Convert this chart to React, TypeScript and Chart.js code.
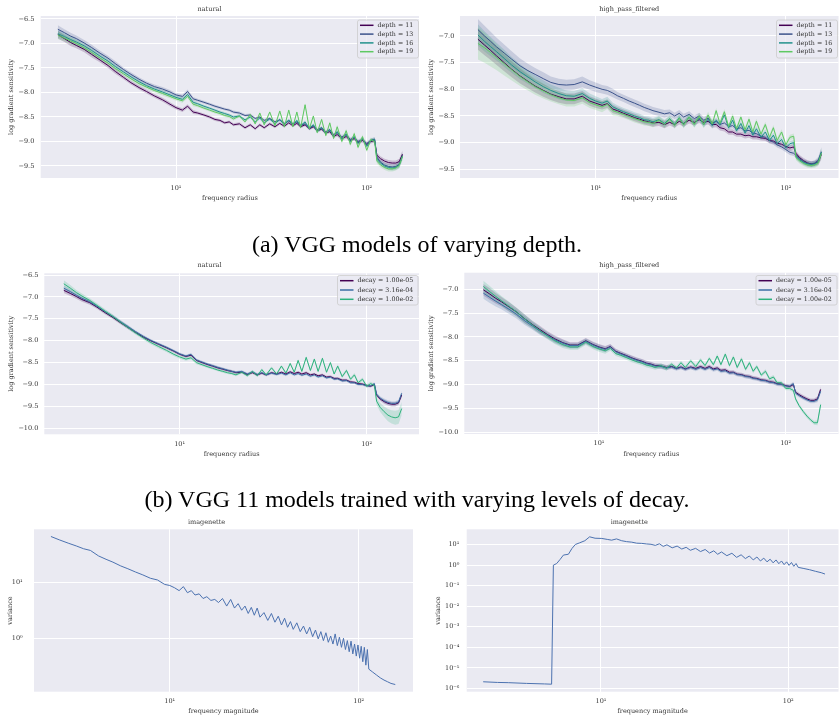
import React, { useEffect, useRef } from "react";
import { Chart, registerables } from "chart.js";

Chart.register(...registerables);

const FONT = "'DejaVu Serif', serif";
const TEXT = "#333333";
const BG = "#eaeaf2";

// ---------- shared frequency radii (panels a, b) ----------
const RADIUS = [2.4, 2.6, 2.8, 3.0, 3.3, 3.6, 4.0, 4.4, 4.8, 5.3, 5.8, 6.4, 7.0, 7.7, 8.5, 9.3, 10, 10.8, 11.5, 12.3,
  13, 14, 15, 16, 17, 18, 19, 20, 21.5, 23, 24.5, 26, 27.5, 29, 31, 33, 35, 37, 39, 41,
  43, 45, 47.5, 50, 52.5, 55, 58, 61, 64, 67, 70, 74, 78, 82, 86, 90, 95, 100, 105, 110,
  113, 118, 124, 130, 136, 142, 148, 154];

// ---------- (a) natural, depth ----------
const NAT_D11 = [-6.82, -6.90, -6.98, -7.04, -7.12, -7.22, -7.34, -7.45, -7.57, -7.69, -7.80, -7.90, -7.98, -8.07, -8.15, -8.24, -8.31, -8.36, -8.28, -8.40,
  -8.42, -8.46, -8.50, -8.55, -8.57, -8.62, -8.60, -8.66, -8.64, -8.72, -8.66, -8.74, -8.66, -8.72, -8.64, -8.70, -8.63, -8.69, -8.62, -8.68,
  -8.63, -8.70, -8.66, -8.74, -8.70, -8.78, -8.75, -8.83, -8.80, -8.90, -8.86, -8.94, -8.90, -8.98, -8.94, -9.02, -8.98, -9.06, -9.00, -8.98,
  -9.28, -9.35, -9.40, -9.43, -9.44, -9.44, -9.41, -9.26];
const NAT_D13 = [-6.71, -6.78, -6.85, -6.90, -6.99, -7.08, -7.20, -7.30, -7.41, -7.53, -7.63, -7.73, -7.81, -7.88, -7.93, -7.99, -8.05, -8.08, -7.98, -8.13,
  -8.16, -8.20, -8.24, -8.28, -8.31, -8.34, -8.36, -8.40, -8.42, -8.47, -8.46, -8.53, -8.50, -8.57, -8.53, -8.60, -8.56, -8.63, -8.58, -8.64,
  -8.60, -8.67, -8.64, -8.72, -8.68, -8.76, -8.72, -8.80, -8.76, -8.86, -8.82, -8.91, -8.86, -8.96, -8.92, -9.00, -8.96, -9.04, -8.98, -8.95,
  -9.32, -9.42, -9.48, -9.51, -9.52, -9.51, -9.47, -9.28];
const NAT_D16 = [-6.80, -6.86, -6.92, -6.97, -7.05, -7.14, -7.26, -7.36, -7.47, -7.58, -7.68, -7.78, -7.86, -7.93, -7.99, -8.05, -8.10, -8.14, -8.04, -8.20,
  -8.23, -8.28, -8.32, -8.36, -8.40, -8.43, -8.46, -8.50, -8.48, -8.56, -8.50, -8.60, -8.52, -8.62, -8.54, -8.64, -8.55, -8.66, -8.56, -8.66,
  -8.57, -8.68, -8.60, -8.74, -8.66, -8.80, -8.72, -8.84, -8.76, -8.90, -8.80, -8.95, -8.85, -9.00, -8.90, -9.04, -8.94, -9.10, -8.98, -8.96,
  -9.36, -9.44, -9.50, -9.53, -9.54, -9.53, -9.48, -9.30];
const NAT_D19 = [-6.83, -6.89, -6.95, -7.00, -7.09, -7.18, -7.30, -7.40, -7.51, -7.62, -7.72, -7.82, -7.89, -7.96, -8.02, -8.08, -8.13, -8.17, -8.08, -8.24,
  -8.27, -8.32, -8.36, -8.40, -8.43, -8.47, -8.49, -8.54, -8.48, -8.60, -8.45, -8.64, -8.42, -8.66, -8.40, -8.68, -8.38, -8.70, -8.36, -8.70,
  -8.40, -8.72, -8.25, -8.74, -8.48, -8.82, -8.55, -8.88, -8.62, -8.94, -8.70, -9.00, -8.78, -9.06, -8.84, -9.12, -8.90, -9.18, -8.96, -9.00,
  -9.40, -9.48, -9.53, -9.56, -9.56, -9.54, -9.49, -9.30];
const NAT_D_BAND = [0.08, 0.07, 0.07, 0.06, 0.06, 0.06, 0.05, 0.05, 0.05, 0.04, 0.04, 0.04, 0.04, 0.04, 0.04, 0.04, 0.04, 0.04, 0.04, 0.04,
  0.03, 0.03, 0.03, 0.03, 0.03, 0.03, 0.03, 0.03, 0.03, 0.03, 0.03, 0.03, 0.03, 0.03, 0.03, 0.03, 0.03, 0.03, 0.03, 0.03,
  0.03, 0.03, 0.03, 0.03, 0.03, 0.03, 0.03, 0.03, 0.03, 0.03, 0.04, 0.04, 0.04, 0.04, 0.04, 0.04, 0.04, 0.04, 0.04, 0.04,
  0.05, 0.05, 0.05, 0.05, 0.05, 0.05, 0.06, 0.08];

// ---------- (a) high_pass_filtered, depth ----------
const HP_D11 = [-7.06, -7.17, -7.27, -7.37, -7.50, -7.62, -7.75, -7.85, -7.94, -8.02, -8.09, -8.14, -8.18, -8.18, -8.13, -8.22, -8.26, -8.30, -8.27, -8.37,
  -8.40, -8.45, -8.49, -8.53, -8.56, -8.59, -8.61, -8.63, -8.62, -8.66, -8.62, -8.66, -8.60, -8.64, -8.58, -8.62, -8.57, -8.62, -8.60, -8.66,
  -8.66, -8.72, -8.74, -8.80, -8.80, -8.84, -8.84, -8.87, -8.86, -8.89, -8.89, -8.91, -8.92, -8.96, -8.97, -9.01, -9.03, -9.07, -9.10, -9.08,
  -9.20, -9.28, -9.34, -9.38, -9.40, -9.39, -9.36, -9.22];
const HP_D13 = [-6.88, -7.00, -7.10, -7.20, -7.32, -7.43, -7.56, -7.65, -7.72, -7.80, -7.87, -7.91, -7.92, -7.91, -7.86, -7.92, -7.96, -8.00, -8.02, -8.07,
  -8.12, -8.17, -8.22, -8.26, -8.30, -8.34, -8.37, -8.40, -8.43, -8.46, -8.44, -8.50, -8.45, -8.52, -8.47, -8.55, -8.50, -8.58, -8.54, -8.63,
  -8.60, -8.66, -8.63, -8.70, -8.68, -8.74, -8.72, -8.78, -8.77, -8.82, -8.83, -8.88, -8.90, -8.96, -8.99, -9.04, -9.08, -9.13, -9.18, -9.20,
  -9.24, -9.30, -9.36, -9.39, -9.40, -9.38, -9.33, -9.17];
const HP_D16 = [-6.98, -7.10, -7.20, -7.29, -7.42, -7.54, -7.67, -7.77, -7.86, -7.95, -8.02, -8.08, -8.12, -8.13, -8.08, -8.17, -8.22, -8.26, -8.22, -8.33,
  -8.37, -8.42, -8.46, -8.50, -8.53, -8.57, -8.58, -8.61, -8.57, -8.64, -8.55, -8.66, -8.53, -8.66, -8.52, -8.65, -8.54, -8.66, -8.56, -8.68,
  -8.58, -8.66, -8.48, -8.72, -8.58, -8.78, -8.64, -8.82, -8.68, -8.86, -8.74, -8.90, -8.80, -8.96, -8.86, -9.02, -8.94, -9.10, -9.02, -9.00,
  -9.26, -9.32, -9.37, -9.40, -9.41, -9.40, -9.36, -9.18];
const HP_D19 = [-7.14, -7.22, -7.31, -7.40, -7.52, -7.63, -7.76, -7.86, -7.95, -8.03, -8.10, -8.16, -8.20, -8.21, -8.16, -8.25, -8.29, -8.33, -8.28, -8.40,
  -8.43, -8.47, -8.51, -8.55, -8.58, -8.61, -8.62, -8.64, -8.58, -8.66, -8.56, -8.68, -8.54, -8.67, -8.52, -8.66, -8.50, -8.66, -8.48, -8.65,
  -8.40, -8.64, -8.42, -8.70, -8.50, -8.74, -8.52, -8.76, -8.56, -8.80, -8.60, -8.84, -8.66, -8.90, -8.72, -8.96, -8.80, -9.04, -8.90, -8.88,
  -9.28, -9.34, -9.39, -9.42, -9.43, -9.42, -9.38, -9.20];
const HP_D_BAND = [0.20, 0.19, 0.18, 0.17, 0.16, 0.15, 0.14, 0.13, 0.12, 0.12, 0.11, 0.11, 0.10, 0.10, 0.10, 0.09, 0.09, 0.08, 0.08, 0.08,
  0.07, 0.07, 0.07, 0.07, 0.07, 0.07, 0.07, 0.07, 0.07, 0.07, 0.06, 0.06, 0.06, 0.06, 0.06, 0.06, 0.06, 0.06, 0.06, 0.06,
  0.05, 0.05, 0.05, 0.05, 0.05, 0.05, 0.05, 0.05, 0.05, 0.05, 0.05, 0.05, 0.05, 0.05, 0.05, 0.05, 0.05, 0.05, 0.05, 0.05,
  0.05, 0.05, 0.05, 0.05, 0.05, 0.05, 0.06, 0.09];
const HP_D19_BAND = [0.30, 0.28, 0.26, 0.24, 0.22, 0.20, 0.18, 0.16, 0.15, 0.14, 0.13, 0.12, 0.12, 0.11, 0.11, 0.10, 0.10, 0.10, 0.09, 0.09,
  0.07, 0.07, 0.07, 0.07, 0.07, 0.07, 0.07, 0.07, 0.07, 0.07, 0.06, 0.06, 0.06, 0.06, 0.06, 0.06, 0.06, 0.06, 0.06, 0.06,
  0.05, 0.05, 0.05, 0.05, 0.05, 0.05, 0.05, 0.05, 0.05, 0.05, 0.05, 0.05, 0.05, 0.05, 0.05, 0.05, 0.05, 0.05, 0.05, 0.05,
  0.05, 0.05, 0.05, 0.05, 0.05, 0.05, 0.06, 0.09];

// ---------- (b) natural, decay ----------
const NAT_W5 = [-6.85, -6.92, -6.99, -7.06, -7.13, -7.23, -7.36, -7.47, -7.58, -7.70, -7.81, -7.92, -8.00, -8.08, -8.16, -8.24, -8.31, -8.36, -8.33, -8.45,
  -8.49, -8.54, -8.58, -8.62, -8.65, -8.68, -8.70, -8.73, -8.72, -8.77, -8.73, -8.78, -8.74, -8.78, -8.73, -8.76, -8.72, -8.76, -8.71, -8.75,
  -8.72, -8.76, -8.73, -8.78, -8.76, -8.80, -8.78, -8.83, -8.82, -8.86, -8.86, -8.90, -8.90, -8.94, -8.95, -8.98, -8.99, -9.02, -9.04, -9.00,
  -9.24, -9.33, -9.39, -9.43, -9.45, -9.45, -9.42, -9.24];
const NAT_W4 = [-6.80, -6.88, -6.96, -7.03, -7.11, -7.21, -7.34, -7.45, -7.56, -7.68, -7.79, -7.90, -7.99, -8.07, -8.15, -8.23, -8.30, -8.35, -8.31, -8.44,
  -8.48, -8.53, -8.57, -8.61, -8.64, -8.67, -8.70, -8.72, -8.70, -8.76, -8.71, -8.77, -8.73, -8.78, -8.74, -8.77, -8.74, -8.78, -8.73, -8.78,
  -8.75, -8.79, -8.76, -8.81, -8.78, -8.83, -8.80, -8.85, -8.83, -8.88, -8.87, -8.92, -8.91, -8.96, -8.96, -9.00, -9.00, -9.03, -9.03, -8.98,
  -9.22, -9.31, -9.37, -9.41, -9.43, -9.43, -9.40, -9.20];
const NAT_W2 = [-6.70, -6.80, -6.90, -6.98, -7.08, -7.19, -7.33, -7.45, -7.57, -7.70, -7.82, -7.94, -8.04, -8.13, -8.22, -8.31, -8.37, -8.42, -8.39, -8.50,
  -8.54, -8.59, -8.63, -8.67, -8.70, -8.73, -8.75, -8.78, -8.72, -8.80, -8.70, -8.80, -8.66, -8.78, -8.62, -8.76, -8.58, -8.74, -8.52, -8.72,
  -8.45, -8.70, -8.38, -8.68, -8.42, -8.70, -8.40, -8.72, -8.50, -8.76, -8.58, -8.82, -8.68, -8.88, -8.78, -8.96, -8.88, -9.04, -8.98, -9.02,
  -9.38, -9.52, -9.62, -9.70, -9.74, -9.76, -9.74, -9.55];
const NAT_W_BAND = [0.06, 0.06, 0.05, 0.05, 0.05, 0.04, 0.04, 0.04, 0.04, 0.04, 0.03, 0.03, 0.03, 0.03, 0.03, 0.03, 0.03, 0.03, 0.03, 0.03,
  0.03, 0.03, 0.03, 0.03, 0.03, 0.03, 0.03, 0.03, 0.03, 0.03, 0.03, 0.03, 0.03, 0.03, 0.03, 0.03, 0.03, 0.03, 0.03, 0.03,
  0.03, 0.03, 0.03, 0.03, 0.03, 0.03, 0.03, 0.03, 0.03, 0.03, 0.03, 0.03, 0.03, 0.03, 0.03, 0.03, 0.03, 0.03, 0.03, 0.03,
  0.04, 0.04, 0.05, 0.05, 0.05, 0.05, 0.05, 0.06];
const NAT_W2_BAND = [0.08, 0.07, 0.06, 0.06, 0.05, 0.05, 0.05, 0.04, 0.04, 0.04, 0.04, 0.04, 0.04, 0.04, 0.04, 0.04, 0.04, 0.04, 0.04, 0.04,
  0.03, 0.03, 0.03, 0.03, 0.03, 0.03, 0.03, 0.03, 0.03, 0.03, 0.03, 0.03, 0.03, 0.03, 0.03, 0.03, 0.03, 0.03, 0.03, 0.03,
  0.03, 0.03, 0.03, 0.03, 0.03, 0.03, 0.03, 0.03, 0.03, 0.03, 0.04, 0.04, 0.04, 0.04, 0.04, 0.04, 0.04, 0.04, 0.04, 0.04,
  0.08, 0.10, 0.12, 0.14, 0.15, 0.16, 0.16, 0.15];

// ---------- (b) high_pass_filtered, decay ----------
const HP_W5 = [-7.01, -7.10, -7.19, -7.26, -7.37, -7.47, -7.62, -7.74, -7.84, -7.95, -8.04, -8.12, -8.17, -8.17, -8.08, -8.16, -8.21, -8.25, -8.20, -8.30,
  -8.34, -8.39, -8.44, -8.48, -8.51, -8.55, -8.57, -8.60, -8.61, -8.64, -8.62, -8.66, -8.63, -8.67, -8.63, -8.66, -8.62, -8.66, -8.62, -8.67,
  -8.65, -8.70, -8.69, -8.74, -8.74, -8.78, -8.79, -8.82, -8.83, -8.86, -8.87, -8.90, -8.91, -8.94, -8.95, -8.98, -8.99, -9.02, -9.04, -9.00,
  -9.16, -9.21, -9.26, -9.30, -9.33, -9.33, -9.30, -9.10];
const HP_W4 = [-7.08, -7.17, -7.25, -7.32, -7.42, -7.52, -7.66, -7.77, -7.87, -7.97, -8.06, -8.13, -8.18, -8.18, -8.09, -8.17, -8.22, -8.26, -8.21, -8.31,
  -8.35, -8.40, -8.45, -8.49, -8.52, -8.56, -8.58, -8.61, -8.62, -8.65, -8.63, -8.67, -8.64, -8.68, -8.64, -8.68, -8.64, -8.68, -8.64, -8.69,
  -8.67, -8.72, -8.71, -8.76, -8.75, -8.79, -8.80, -8.83, -8.84, -8.87, -8.88, -8.91, -8.92, -8.95, -8.96, -8.99, -9.00, -9.03, -9.03, -8.98,
  -9.18, -9.23, -9.28, -9.32, -9.35, -9.35, -9.32, -9.14];
const HP_W2 = [-6.94, -7.05, -7.15, -7.24, -7.36, -7.47, -7.62, -7.75, -7.86, -7.98, -8.08, -8.16, -8.21, -8.21, -8.11, -8.20, -8.25, -8.29, -8.24, -8.35,
  -8.38, -8.43, -8.48, -8.52, -8.55, -8.59, -8.61, -8.64, -8.60, -8.66, -8.57, -8.65, -8.54, -8.64, -8.50, -8.62, -8.48, -8.60, -8.45, -8.58,
  -8.40, -8.58, -8.36, -8.60, -8.42, -8.64, -8.46, -8.68, -8.54, -8.72, -8.62, -8.80, -8.72, -8.88, -8.84, -8.96, -8.96, -9.08, -9.08, -9.12,
  -9.30, -9.44, -9.56, -9.66, -9.74, -9.80, -9.80, -9.42];
const HP_W_BAND = [0.12, 0.12, 0.11, 0.10, 0.10, 0.09, 0.09, 0.08, 0.08, 0.07, 0.07, 0.07, 0.06, 0.06, 0.06, 0.06, 0.06, 0.06, 0.05, 0.05,
  0.05, 0.05, 0.05, 0.05, 0.05, 0.05, 0.05, 0.05, 0.05, 0.05, 0.04, 0.04, 0.04, 0.04, 0.04, 0.04, 0.04, 0.04, 0.04, 0.04,
  0.04, 0.04, 0.04, 0.04, 0.04, 0.04, 0.04, 0.04, 0.04, 0.04, 0.04, 0.04, 0.04, 0.04, 0.04, 0.04, 0.04, 0.04, 0.04, 0.04,
  0.04, 0.04, 0.04, 0.04, 0.04, 0.04, 0.05, 0.06];

// ---------- imagenette variance (natural) ----------
const FREQ_NAT = [2.35, 2.6, 2.9, 3.2, 3.5, 3.8, 4.2, 4.6, 5.0, 5.5, 6.0, 6.6, 7.2, 7.9, 8.6, 9.4, 10, 10.6, 11.2, 11.8,
  12.4, 13, 13.6, 14.3, 15, 15.7, 16.5, 17.3, 18.1, 19,
  20, 21, 22, 23, 24, 25, 26, 27, 28, 29, 30,
  31.5, 33, 34.5, 36, 37.5, 39, 40.5, 42, 43.5, 45,
  47, 49, 51, 53, 55, 57, 59, 61, 63, 65, 67, 69, 71, 73, 75, 77, 79, 81, 83, 85, 87, 89, 91, 93, 95, 97, 99, 101, 103, 105, 107, 109, 111,
  113, 118, 124, 130, 136, 142, 148, 156];
const VAR_NAT = [67.6, 58.9, 51.3, 45.7, 40.7, 38.0, 30.2, 26.3, 23.4, 20.0, 17.8, 15.5, 13.8, 12.0, 11.2, 9.3, 8.9, 8.1, 7.2, 8.5,
  6.6, 7.2, 6.0, 6.3, 5.2, 5.6, 4.8, 5.0, 4.4, 5.2,
  3.8, 5.0, 3.5, 4.2, 3.2, 3.8, 2.8, 3.6, 2.6, 3.5, 2.4,
  2.9, 2.1, 2.8, 1.95, 2.5, 1.74, 2.3, 1.58, 2.0, 1.45,
  1.9, 1.32, 1.66, 1.2, 1.58, 1.07, 1.41, 0.98, 1.32, 0.91, 1.26, 0.85, 1.1, 0.79, 1.2, 0.74, 1.05, 0.69, 1.0, 0.63, 0.91, 0.575, 0.89, 0.525, 0.79, 0.48, 0.76, 0.44, 0.72, 0.38, 0.69, 0.33, 0.63,
  0.28, 0.25, 0.22, 0.195, 0.178, 0.166, 0.155, 0.148];

// ---------- imagenette variance (high-pass) ----------
const FREQ_HP = [2.35, 2.8, 3.2, 4.0, 5.0, 5.45, 5.57, 5.8, 6.05, 6.3,
  6.7, 7.0, 7.3, 7.7, 8.2, 8.7, 9.3, 10.1, 10.8, 11.4,
  12.1, 12.9, 13.7, 14.6, 15.5, 16.5, 17.5, 18.5, 19.5, 20.5,
  21.5, 22.5, 24, 25.5, 27, 28.5, 30, 32, 34, 36,
  38, 40, 42, 44, 47, 50, 53, 56, 59, 62,
  65, 68, 71, 74, 77, 80, 83, 86, 89, 92,
  95, 98, 101, 104, 107, 110, 113, 120, 130, 140,
  150, 157];
const VAR_HP = [2.1e-6, 1.95e-6, 1.9e-6, 1.75e-6, 1.65e-6, 1.6e-6, 1.0, 1.2, 1.9, 3.1,
  3.4, 6.5, 10.2, 12.3, 15.5, 24, 20.5, 20, 18, 16.5,
  19, 15.5, 14, 13.2, 11.8, 11.5, 10.8, 10.4, 9.2, 11.0,
  8.2, 9.8, 7.0, 8.5, 6.1, 7.4, 5.3, 6.6, 4.6, 5.8,
  3.9, 5.0, 3.4, 4.4, 2.9, 3.8, 2.4, 3.2, 2.1, 2.8,
  1.8, 2.5, 1.6, 2.2, 1.45, 1.95, 1.3, 1.8, 1.18, 1.6,
  1.06, 1.45, 0.98, 1.35, 0.88, 1.2, 0.78, 0.7, 0.6, 0.5,
  0.43, 0.37];

// ---------- labels / ticks ----------
const DEPTH_LABELS = ["depth = 11", "depth = 13", "depth = 16", "depth = 19"];
const DEPTH_COLORS = ["#440154", "#3b528b", "#21918c", "#5ec962"];
const DECAY_LABELS = ["decay = 1.00e-05", "decay = 3.16e-04", "decay = 1.00e-02"];
const DECAY_COLORS = ["#440154", "#3a6ea5", "#2db27d"];
const LINE_BLUE = "#4c72b0";

const X_TICKS = [10, 100];
const X_TICK_LABELS = ["10\u00B9", "10\u00B2"];
const Y_TICKS_A1 = [-9.5, -9.0, -8.5, -8.0, -7.5, -7.0, -6.5];
const Y_TICKS_A2 = [-9.5, -9.0, -8.5, -8.0, -7.5, -7.0];
const Y_TICKS_B = [-10.0, -9.5, -9.0, -8.5, -8.0, -7.5, -7.0, -6.5];
const Y_TICKS_B2 = [-10.0, -9.5, -9.0, -8.5, -8.0, -7.5, -7.0];
const Y_TICKS_VAR1 = [1, 10];
const Y_TICK_LABELS_VAR1 = ["10\u2070", "10\u00B9"];
const Y_TICKS_VAR2 = [1e-6, 1e-5, 1e-4, 1e-3, 1e-2, 1e-1, 1, 10];
const Y_TICK_LABELS_VAR2 = ["10\u207B\u2076", "10\u207B\u2075", "10\u207B\u2074", "10\u207B\u00B3", "10\u207B\u00B2", "10\u207B\u00B9", "10\u2070", "10\u00B9"];

const fmtLinear = (v: number) => (v < 0 ? "\u2212" : "") + Math.abs(v).toFixed(1);

type Series = { label: string; color: string; y: number[]; band: number[] | null };
type Legend = { x: number; y: number; w: number; h: number; row0: number; gap: number };
type Panel = {
  x: number; y: number; w: number; h: number;
  areaTop: number; yAxisW: number; xAxisH: number; padRight: number;
  title: string; titleY: number;
  yTitle: string; yTitleX: number; yTickPad: number;
  xTitle: string; xTitleOff: number; xTickOff: number;
  xMin: number; xMax: number;
  yLog: boolean; yMin: number; yMax: number; yTicks: number[]; yLabels: string[];
  xs: number[]; series: Series[]; legend: Legend | null;
};

const depthSeries = (ys: number[][], bands: number[][]): Series[] =>
  ys.map((y, i) => ({ label: DEPTH_LABELS[i], color: DEPTH_COLORS[i], y, band: bands[i] }));
const decaySeries = (ys: number[][], bands: number[][]): Series[] =>
  ys.map((y, i) => ({ label: DECAY_LABELS[i], color: DECAY_COLORS[i], y, band: bands[i] }));

const PANELS: Panel[] = [
  {
    x: 0, y: 0, w: 420, h: 210, areaTop: 16, yAxisW: 40.7, xAxisH: 32, padRight: 1,
    title: "natural", titleY: 9.3, yTitle: "log gradient sensitivity", yTitleX: 11.7, yTickPad: 6.4,
    xTitle: "frequency radius", xTitleOff: 11.7, xTickOff: 10.7,
    xMin: 1.952, xMax: 187.9, yLog: false, yMin: -9.745, yMax: -6.44,
    yTicks: Y_TICKS_A1, yLabels: Y_TICKS_A1.map(fmtLinear), xs: RADIUS,
    series: depthSeries([NAT_D11, NAT_D13, NAT_D16, NAT_D19], [NAT_D_BAND, NAT_D_BAND, NAT_D_BAND, NAT_D_BAND]),
    legend: { x: 357, y: 19.5, w: 61, h: 38, row0: 25.3, gap: 8.8 },
  },
  {
    x: 420, y: 0, w: 419, h: 210, areaTop: 16, yAxisW: 40, xAxisH: 32, padRight: 0.5,
    title: "high_pass_filtered", titleY: 9.3, yTitle: "log gradient sensitivity", yTitleX: 11.7, yTickPad: 5.7,
    xTitle: "frequency radius", xTitleOff: 11.7, xTickOff: 10.7,
    xMin: 1.932, xMax: 189.2, yLog: false, yMin: -9.663, yMax: -6.625,
    yTicks: Y_TICKS_A2, yLabels: Y_TICKS_A2.map(fmtLinear), xs: RADIUS,
    series: depthSeries([HP_D11, HP_D13, HP_D16, HP_D19], [HP_D_BAND, HP_D_BAND, HP_D_BAND, HP_D19_BAND]),
    legend: { x: 356, y: 19.5, w: 61, h: 38, row0: 25.3, gap: 8.8 },
  },
  {
    x: 0, y: 250, w: 420, h: 220, areaTop: 23.3, yAxisW: 44.3, xAxisH: 35.7, padRight: 1,
    title: "natural", titleY: 15.7, yTitle: "log gradient sensitivity", yTitleX: 11.7, yTickPad: 6,
    xTitle: "frequency radius", xTitleOff: 16, xTickOff: 9.7,
    xMin: 1.888, xMax: 190.5, yLog: false, yMin: -10.137, yMax: -6.461,
    yTicks: Y_TICKS_B, yLabels: Y_TICKS_B.map(fmtLinear), xs: RADIUS,
    series: decaySeries([NAT_W5, NAT_W4, NAT_W2], [NAT_W_BAND, NAT_W_BAND, NAT_W2_BAND]),
    legend: { x: 337, y: 25, w: 80.5, h: 29.5, row0: 30.7, gap: 9.3 },
  },
  {
    x: 420, y: 250, w: 419, h: 220, areaTop: 22.7, yAxisW: 44.3, xAxisH: 36, padRight: 0.5,
    title: "high_pass_filtered", titleY: 15.7, yTitle: "log gradient sensitivity", yTitleX: 11.7, yTickPad: 6,
    xTitle: "frequency radius", xTitleOff: 16, xTickOff: 9.7,
    xMin: 1.899, xMax: 191.9, yLog: false, yMin: -10.036, yMax: -6.652,
    yTicks: Y_TICKS_B2, yLabels: Y_TICKS_B2.map(fmtLinear), xs: RADIUS,
    series: decaySeries([HP_W5, HP_W4, HP_W2], [HP_W_BAND, HP_W_BAND, HP_W_BAND]),
    legend: { x: 335.5, y: 25, w: 81, h: 29.5, row0: 30.7, gap: 9.3 },
  },
  {
    x: 0, y: 505, w: 420, h: 210, areaTop: 24.3, yAxisW: 34, xAxisH: 23.3, padRight: 7,
    title: "imagenette", titleY: 17.7, yTitle: "variance", yTitleX: 10, yTickPad: 11.3,
    xTitle: "frequency magnitude", xTitleOff: 4, xTickOff: 10,
    xMin: 1.912, xMax: 193.6, yLog: true, yMin: 0.11, yMax: 91,
    yTicks: Y_TICKS_VAR1, yLabels: Y_TICK_LABELS_VAR1, xs: FREQ_NAT,
    series: [{ label: "variance", color: LINE_BLUE, y: VAR_NAT, band: null }],
    legend: null,
  },
  {
    x: 420, y: 505, w: 419, h: 210, areaTop: 24.3, yAxisW: 46.7, xAxisH: 23.3, padRight: 0.5,
    title: "imagenette", titleY: 17.7, yTitle: "variance", yTitleX: 18.3, yTickPad: 7.4,
    xTitle: "frequency magnitude", xTitleOff: 4, xTickOff: 10,
    xMin: 1.919, xMax: 185.4, yLog: true, yMin: 6.9e-7, yMax: 55.8,
    yTicks: Y_TICKS_VAR2, yLabels: Y_TICK_LABELS_VAR2, xs: FREQ_HP,
    series: [{ label: "variance", color: LINE_BLUE, y: VAR_HP, band: null }],
    legend: null,
  },
];

function rgba(hex: string, a: number) {
  const n = parseInt(hex.slice(1), 16);
  return `rgba(${(n >> 16) & 255},${(n >> 8) & 255},${n & 255},${a})`;
}

const bgPlugin = {
  id: "plotBg",
  beforeDraw(chart: any) {
    const { ctx, chartArea: a } = chart;
    ctx.save();
    ctx.fillStyle = BG;
    ctx.fillRect(a.left, a.top, a.right - a.left, a.bottom - a.top);
    ctx.restore();
  },
};

function legendPlugin(p: Panel) {
  return {
    id: "boxLegend",
    afterDraw(chart: any) {
      const L = p.legend;
      if (!L) return;
      const ctx = chart.ctx;
      ctx.save();
      ctx.beginPath();
      ctx.roundRect(L.x + 0.5, L.y + 0.5, L.w, L.h, 2);
      ctx.fillStyle = "rgba(234,234,242,0.8)";
      ctx.fill();
      ctx.strokeStyle = "#cccccc";
      ctx.lineWidth = 0.8;
      ctx.stroke();
      ctx.font = `6.3px ${FONT}`;
      ctx.textBaseline = "middle";
      ctx.textAlign = "left";
      p.series.forEach((s, i) => {
        const yy = L.row0 + i * L.gap;
        ctx.strokeStyle = s.color;
        ctx.lineWidth = 1.5;
        ctx.beginPath();
        ctx.moveTo(L.x + 3, yy);
        ctx.lineTo(L.x + 16.5, yy);
        ctx.stroke();
        ctx.fillStyle = TEXT;
        ctx.fillText(s.label, L.x + 20.5, yy);
      });
      ctx.restore();
    },
  };
}

function buildConfig(p: Panel): any {
  const fs = 6.5;
  const lh = fs * 1.2;
  const font = { family: FONT, size: fs, lineHeight: 1.2, weight: "normal" as const };
  const n = p.series.length;
  const datasets: any[] = [];
  p.series.forEach((s, i) => {
    datasets.push({
      label: s.label,
      data: p.xs.map((x, k) => ({ x, y: s.y[k] })),
      borderColor: s.color,
      borderWidth: 1,
      pointRadius: 0,
      fill: false,
      tension: 0,
      order: n - i,
    });
  });
  p.series.forEach((s, i) => {
    const b = s.band;
    if (!b) return;
    datasets.push({
      label: s.label + " upper",
      data: p.xs.map((x, k) => ({ x, y: s.y[k] + b[k] })),
      borderColor: "rgba(0,0,0,0)",
      borderWidth: 0,
      pointRadius: 0,
      fill: false,
      order: 200 - i,
    });
    datasets.push({
      label: s.label + " lower",
      data: p.xs.map((x, k) => ({ x, y: s.y[k] - b[k] })),
      borderColor: "rgba(0,0,0,0)",
      borderWidth: 0,
      pointRadius: 0,
      fill: "-1",
      backgroundColor: rgba(s.color, 0.2),
      order: 200 - i,
    });
  });

  return {
    type: "line",
    data: { datasets },
    plugins: [bgPlugin, legendPlugin(p)],
    options: {
      animation: false,
      responsive: false,
      maintainAspectRatio: false,
      devicePixelRatio: 1,
      layout: { padding: { left: 0, right: p.padRight, top: 0, bottom: 0 } },
      plugins: {
        legend: { display: false },
        tooltip: { enabled: false },
        title: {
          display: true,
          text: p.title,
          color: TEXT,
          font,
          padding: { top: p.titleY - lh / 2, bottom: p.areaTop - (p.titleY - lh / 2) - lh },
        },
      },
      scales: {
        x: {
          type: "logarithmic",
          min: p.xMin,
          max: p.xMax,
          afterBuildTicks: (sc: any) => {
            sc.ticks = X_TICKS.map((v) => ({ value: v }));
          },
          afterFit: (sc: any) => {
            sc.height = p.xAxisH;
          },
          ticks: {
            autoSkip: false,
            maxRotation: 0,
            padding: p.xTickOff - lh / 2,
            color: TEXT,
            font,
            callback: (_v: any, i: number) => X_TICK_LABELS[i],
          },
          grid: { color: "#ffffff", lineWidth: 1, drawTicks: false },
          border: { display: false },
          title: {
            display: true,
            text: p.xTitle,
            color: TEXT,
            font,
            padding: { top: 0, bottom: p.xTitleOff - lh / 2 },
          },
        },
        y: {
          type: p.yLog ? "logarithmic" : "linear",
          min: p.yMin,
          max: p.yMax,
          afterBuildTicks: (sc: any) => {
            sc.ticks = p.yTicks.map((v) => ({ value: v }));
          },
          afterFit: (sc: any) => {
            sc.width = p.yAxisW;
          },
          ticks: {
            autoSkip: false,
            padding: p.yTickPad,
            color: TEXT,
            font,
            callback: (_v: any, i: number) => p.yLabels[i],
          },
          grid: { color: "#ffffff", lineWidth: 1, drawTicks: false },
          border: { display: false },
          title: {
            display: true,
            text: p.yTitle,
            color: TEXT,
            font,
            padding: { top: p.yTitleX - lh / 2, bottom: 0 },
          },
        },
      },
    },
  };
}

function ChartPanel({ p }: { p: Panel }) {
  const ref = useRef<HTMLCanvasElement>(null);
  useEffect(() => {
    const chart = new Chart(ref.current as HTMLCanvasElement, buildConfig(p));
    return () => chart.destroy();
  }, [p]);
  return (
    <canvas
      ref={ref}
      width={p.w}
      height={p.h}
      style={{ position: "absolute", left: p.x, top: p.y, width: p.w, height: p.h }}
    />
  );
}

const captionStyle: React.CSSProperties = {
  position: "absolute",
  left: 0,
  width: 834,
  textAlign: "center",
  fontFamily: "'Liberation Serif', 'Times New Roman', serif",
  fontSize: 24,
  lineHeight: "24px",
  whiteSpace: "nowrap",
  color: "#000",
};

export default function App() {
  return (
    <div style={{ position: "absolute", left: 0, top: 0, width: 839, height: 715, background: "#fff", overflow: "hidden" }}>
      {PANELS.map((p, i) => (
        <ChartPanel key={i} p={p} />
      ))}
      <div style={{ ...captionStyle, top: 231.5 }}>(a) VGG models of varying depth.</div>
      <div style={{ ...captionStyle, top: 486.5 }}>(b) VGG 11 models trained with varying levels of decay.</div>
    </div>
  );
}
